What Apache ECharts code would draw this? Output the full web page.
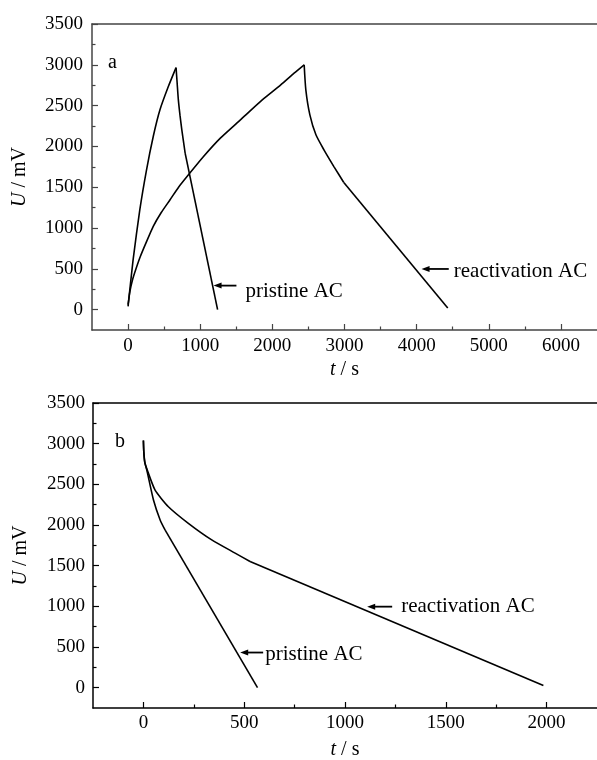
<!DOCTYPE html>
<html>
<head>
<meta charset="utf-8">
<script src="https://cdn.jsdelivr.net/npm/echarts@6/dist/echarts.min.js"></script>
<style>
html, body { margin: 0; padding: 0; background: #fff; }
#chart { width: 597px; height: 760px; }
</style>
</head>
<body>
<div id="chart"></div>
<script>
// ---- panel a : charge / discharge, t in s, U in mV ----
const pristineChargeA = [[0, 40], [70, 612], [163, 1224], [256, 1713], [349, 2121], [442, 2448], [558, 2733], [665, 2965]]
const pristineDischargeA = [[665, 2965], [680, 2780], [697, 2570], [720, 2380], [745, 2203], [791, 1918]]
const pristineTailA = [[791, 1918], [1241, 0]]
const reactChargeA = [[0, 60], [25, 220], [60, 360], [110, 500], [170, 650], [250, 820], [349, 1020], [460, 1190], [582, 1346],
  [700, 1500], [837, 1652], [1046, 1876], [1279, 2101], [1557, 2325], [1860, 2570], [2116, 2754], [2301, 2897], [2441, 3000]]
const reactDischargeA = [[2441, 3000], [2464, 2692], [2520, 2386], [2604, 2142], [2715, 1958], [2855, 1750], [2990, 1558]]
const reactTailA = [[2990, 1558], [4431, 20]]

// ---- panel b : discharge only ----
const pristineB = [[0, 3040], [2, 2900], [6, 2780], [17, 2674], [50, 2307], [83, 2062], [108, 1936]]
const pristineTailB = [[108, 1936], [566, 0]]
const reactB = [[0, 3040], [2, 2900], [8, 2760], [17, 2690], [58, 2429], [124, 2225], [223, 2021], [339, 1817], [455, 1654], [529, 1551]]
const reactTailB = [[529, 1551], [1984, 28]]

// ---- ticks ----
const xLabelsA = [0, 1000, 2000, 3000, 4000, 5000, 6000]
const xMinorA = [500, 1500, 2500, 3500, 4500, 5500]
const xLabelsB = [0, 500, 1000, 1500, 2000]
const xMinorB = [250, 750, 1250, 1750]
const yLabels = [0, 500, 1000, 1500, 2000, 2500, 3000, 3500]
const yMinor = [250, 750, 1250, 1750, 2250, 2750, 3250]

const font = "'Liberation Serif', 'Times New Roman', serif"
const chart = echarts.init(document.getElementById('chart'))

const xAxes = (grid, min, max, labels, minor, color, nameGap, margin) => [
  {
    type: 'value', gridIndex: grid, min, max, position: 'bottom',
    name: '{i|t} / s', nameLocation: 'middle', nameGap,
    nameTextStyle: { fontFamily: font, fontSize: 20, color: '#000', rich: { i: { fontStyle: 'italic', fontFamily: font, fontSize: 20 } } },
    axisLine: { onZero: false, lineStyle: { color, width: 1.5 } },
    axisTick: { inside: true, length: 6, customValues: labels, lineStyle: { color, width: 1.2 } },
    axisLabel: { customValues: labels, margin, formatter: v => String(v), fontFamily: font, fontSize: 19, color: '#000' },
    splitLine: { show: false }
  },
  {
    type: 'value', gridIndex: grid, min, max, position: 'bottom',
    axisLine: { show: false, onZero: false },
    axisTick: { inside: true, length: 3.5, customValues: minor, lineStyle: { color, width: 1.2 } },
    axisLabel: { show: false },
    splitLine: { show: false }
  },
  {
    type: 'value', gridIndex: grid, min, max, position: 'top',
    axisLine: { onZero: false, lineStyle: { color, width: 1.5 } },
    axisTick: { show: false }, axisLabel: { show: false }, splitLine: { show: false }
  }
]

const yAxes = (grid, color, nameGap, margin) => [
  {
    type: 'value', gridIndex: grid, min: -250, max: 3500, position: 'left',
    name: '{i|U} / mV', nameLocation: 'middle', nameGap, nameRotate: 90,
    nameTextStyle: { fontFamily: font, fontSize: 20, color: '#000', rich: { i: { fontStyle: 'italic', fontFamily: font, fontSize: 20 } } },
    axisLine: { show: true, onZero: false, lineStyle: { color, width: 1.5 } },
    axisTick: { show: true, inside: true, length: 6, customValues: yLabels, lineStyle: { color, width: 1.2 } },
    axisLabel: { customValues: yLabels, margin, formatter: v => String(v), fontFamily: font, fontSize: 19, color: '#000' },
    splitLine: { show: false }
  },
  {
    type: 'value', gridIndex: grid, min: -250, max: 3500, position: 'left',
    axisLine: { show: false, onZero: false },
    axisTick: { show: true, inside: true, length: 3.5, customValues: yMinor, lineStyle: { color, width: 1.2 } },
    axisLabel: { show: false },
    splitLine: { show: false }
  }
]

const line = (data, xi, yi, smooth) => ({
  type: 'line', data, xAxisIndex: xi, yAxisIndex: yi,
  showSymbol: false, smooth: smooth ? 0.2 : false, animation: false,
  lineStyle: { color: '#000', width: 1.6 }
})

chart.setOption({
  animation: false,
  title: [
    { text: 'a', left: 103, top: 48, textStyle: { fontFamily: font, fontSize: 20, fontWeight: 'normal', color: '#000' } },
    { text: 'b', left: 110, top: 427, textStyle: { fontFamily: font, fontSize: 20, fontWeight: 'normal', color: '#000' } }
  ],
  grid: [
    { left: 92, top: 24, right: 0, height: 306, outerBoundsMode: 'none' },
    { left: 93, top: 403, right: 0, height: 305, outerBoundsMode: 'none' }
  ],
  xAxis: [
    ...xAxes(0, -500, 6500, xLabelsA, xMinorA, '#444', 30, 7),
    ...xAxes(1, -250, 2250, xLabelsB, xMinorB, '#000', 32, 6)
  ],
  yAxis: [
    ...yAxes(0, '#444', 62, 9),
    ...yAxes(1, '#000', 62, 8)
  ],
  series: [
    line(pristineChargeA, 0, 0, true),
    line(pristineDischargeA, 0, 0, true),
    line(pristineTailA, 0, 0, false),
    line(reactChargeA, 0, 0, true),
    line(reactDischargeA, 0, 0, true),
    line(reactTailA, 0, 0, false),
    line(pristineB, 3, 2, true),
    line(pristineTailB, 3, 2, false),
    line(reactB, 3, 2, true),
    line(reactTailB, 3, 2, false)
  ]
})

// arrows with labels, anchored in data coordinates
const notes = [
  { grid: 0, head: [1185, 294], tail: [1502, 294], text: 'pristine AC', dx: 9, dy: 6 },
  { grid: 0, head: [4068, 498], tail: [4445, 498], text: 'reactivation AC', dx: 5, dy: 3 },
  { grid: 1, head: [480, 432], tail: [594, 432], text: 'pristine AC', dx: 2, dy: 2 },
  { grid: 1, head: [1110, 996], tail: [1234, 996], text: 'reactivation AC', dx: 9, dy: 0 }
]

const graphic = []
notes.forEach(n => {
  const h = chart.convertToPixel({ gridIndex: n.grid }, n.head)
  const t = chart.convertToPixel({ gridIndex: n.grid }, n.tail)
  graphic.push({
    type: 'line', shape: { x1: h[0] + 6, y1: h[1], x2: t[0], y2: t[1] },
    style: { stroke: '#000', lineWidth: 1.8 }
  })
  graphic.push({
    type: 'polygon', shape: { points: [[h[0], h[1]], [h[0] + 8, h[1] - 3], [h[0] + 8, h[1] + 3]] },
    style: { fill: '#000' }
  })
  graphic.push({
    type: 'text', x: t[0] + n.dx, y: t[1] + n.dy,
    style: { text: n.text, fontFamily: font, fontSize: 21, fill: '#000', verticalAlign: 'middle', align: 'left' }
  })
})
chart.setOption({ graphic })
</script>
</body>
</html>
